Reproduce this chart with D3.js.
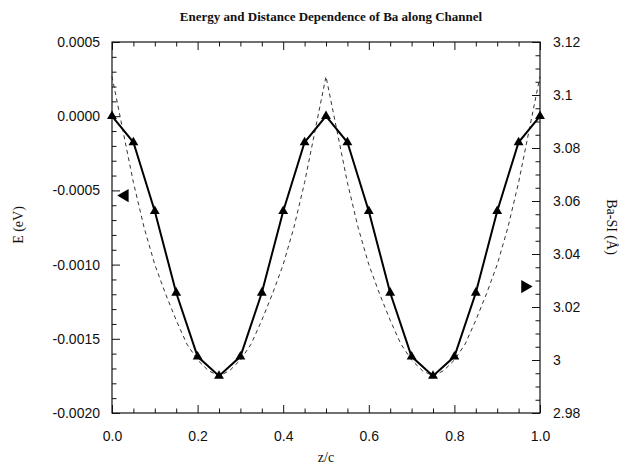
<!DOCTYPE html>
<html><head><meta charset="utf-8">
<script src="https://cdn.jsdelivr.net/npm/d3@7"></script>
<style>
html,body{margin:0;padding:0;background:#fff;}
svg{display:block;}
.num{font-family:"Liberation Sans",Arial,sans-serif;font-size:14px;fill:#111;}
.serif{font-family:"Liberation Serif","Times New Roman",serif;fill:#111;}
</style></head>
<body>
<svg id="c" width="626" height="467"></svg>
<script>
// ---- data ----
const zPositions = [0.00,0.05,0.10,0.15,0.20,0.25,0.30,0.35,0.40,0.45,0.50,0.55,0.60,0.65,0.70,0.75,0.80,0.85,0.90,0.95,1.00];
const energy = [0,-0.000176,-0.00064,-0.00119,-0.00162,-0.00175,-0.00162,-0.00119,-0.00064,-0.000176,0,
                -0.000176,-0.00064,-0.00119,-0.00162,-0.00175,-0.00162,-0.00119,-0.00064,-0.000176,0];
const zFine = [0.000,0.025,0.050,0.075,0.100,0.125,0.150,0.175,0.200,0.225,0.250,0.275,0.300,0.325,0.350,0.375,0.400,0.425,0.450,0.475,
               0.500,0.525,0.550,0.575,0.600,0.625,0.650,0.675,0.700,0.725,0.750,0.775,0.800,0.825,0.850,0.875,0.900,0.925,0.950,0.975,1.000];
const distance = [3.107,3.087,3.067,3.050,3.036,3.025,3.015,3.006,3.000,2.996,2.994,2.996,3.000,3.006,3.015,3.025,3.036,3.050,3.067,3.087,
                  3.107,3.087,3.067,3.050,3.036,3.025,3.015,3.006,3.000,2.996,2.994,2.996,3.000,3.006,3.015,3.025,3.036,3.050,3.067,3.087,3.107];
const xTicks = [0,0.2,0.4,0.6,0.8,1.0];
const xMinor = [0.05,0.1,0.15,0.25,0.3,0.35,0.45,0.5,0.55,0.65,0.7,0.75,0.85,0.9,0.95];
const eTicks = [0.0005,0,-0.0005,-0.0010,-0.0015,-0.0020];
const eTickLabels = ["0.0005","0.0000","-0.0005","-0.0010","-0.0015","-0.0020"];
const eMinor = [0.0004,0.0003,0.0002,0.0001,-0.0001,-0.0002,-0.0003,-0.0004,-0.0006,-0.0007,-0.0008,-0.0009,
                -0.0011,-0.0012,-0.0013,-0.0014,-0.0016,-0.0017,-0.0018,-0.0019];
const dTicks = [3.12,3.10,3.08,3.06,3.04,3.02,3.00,2.98];
const dTickLabels = ["3.12","3.1","3.08","3.06","3.04","3.02","3","2.98"];
const dMinor = [3.115,3.11,3.105,3.095,3.09,3.085,3.075,3.07,3.065,3.055,3.05,3.045,3.035,3.03,3.025,3.015,3.01,3.005,2.995,2.99,2.985];
const arrowE = -0.000535, arrowEz = 0.03;
const arrowD = 3.0277, arrowDz = 0.965;

// ---- layout ----
const L=112, R=540, T=42, B=413;
const svg = d3.select("#c");
const x = d3.scaleLinear([0,1],[L,R]);
const yE = d3.scaleLinear([-0.002,0.0005],[B,T]);
const yD = d3.scaleLinear([2.98,3.12],[B,T]);

function styleAxis(g){ g.select(".domain").remove(); g.selectAll("line").attr("stroke","#111"); g.selectAll("text").attr("class","num").attr("font-size",null).attr("font-family",null); }

// bottom
svg.append("g").attr("transform",`translate(0,${B})`)
  .call(d3.axisBottom(x).tickValues(xTicks).tickSize(-8).tickPadding(18).tickFormat(d3.format(".1f"))).call(styleAxis);
svg.append("g").attr("transform",`translate(0,${B})`)
  .call(d3.axisBottom(x).tickValues(xMinor).tickSize(-4.5).tickFormat("")).call(styleAxis);
// top
svg.append("g").attr("transform",`translate(0,${T})`)
  .call(d3.axisTop(x).tickValues(xTicks).tickSize(-8).tickFormat("")).call(styleAxis);
svg.append("g").attr("transform",`translate(0,${T})`)
  .call(d3.axisTop(x).tickValues(xMinor).tickSize(-4.5).tickFormat("")).call(styleAxis);
// left
svg.append("g").attr("transform",`translate(${L},0)`)
  .call(d3.axisLeft(yE).tickValues(eTicks).tickSize(-8).tickPadding(12).tickFormat((d,i)=>eTickLabels[i])).call(styleAxis);
svg.append("g").attr("transform",`translate(${L},0)`)
  .call(d3.axisLeft(yE).tickValues(eMinor).tickSize(-4.5).tickFormat("")).call(styleAxis);
// right
svg.append("g").attr("transform",`translate(${R},0)`)
  .call(d3.axisRight(yD).tickValues(dTicks).tickSize(-8).tickPadding(13).tickFormat((d,i)=>dTickLabels[i])).call(styleAxis);
svg.append("g").attr("transform",`translate(${R},0)`)
  .call(d3.axisRight(yD).tickValues(dMinor).tickSize(-4.5).tickFormat("")).call(styleAxis);

// frame
svg.append("rect").attr("x",L).attr("y",T).attr("width",R-L).attr("height",B-T)
  .attr("fill","none").attr("stroke","#111").attr("stroke-width",1.2);

// dashed distance curve
svg.append("path").datum(zFine.map((z,i)=>[z,distance[i]]))
  .attr("d",d3.line().x(d=>x(d[0])).y(d=>yD(d[1])))
  .attr("fill","none").attr("stroke","#333").attr("stroke-width",1).attr("stroke-dasharray","4,3.5");

// solid energy line
svg.append("path").datum(zPositions.map((z,i)=>[z,energy[i]]))
  .attr("d",d3.line().x(d=>x(d[0])).y(d=>yE(d[1])))
  .attr("fill","none").attr("stroke","#000").attr("stroke-width",2);

svg.selectAll(".mk").data(zPositions.map((z,i)=>[z,energy[i]])).join("path")
  .attr("transform",d=>`translate(${x(d[0])},${yE(d[1])})`)
  .attr("d",d3.symbol(d3.symbolTriangle,42)).attr("fill","#000");

// axis indicator arrows
svg.append("path").attr("transform",`translate(${x(arrowEz)},${yE(arrowE)}) rotate(-90)`)
  .attr("d",d3.symbol(d3.symbolTriangle,75)).attr("fill","#000");
svg.append("path").attr("transform",`translate(${x(arrowDz)},${yD(arrowD)}) rotate(90)`)
  .attr("d",d3.symbol(d3.symbolTriangle,75)).attr("fill","#000");

// titles
svg.append("text").attr("class","serif").attr("x",(L+R)/2+5).attr("y",21).attr("text-anchor","middle")
  .attr("font-size",13).attr("font-weight","bold").text("Energy and Distance Dependence of Ba along Channel");
svg.append("text").attr("class","serif").attr("transform","translate(23,225) rotate(-90)").attr("text-anchor","middle")
  .attr("font-size",14).text("E (eV)");
svg.append("text").attr("class","serif").attr("transform","translate(607,227) rotate(90)").attr("text-anchor","middle")
  .attr("font-size",14).text("Ba-SI (Å)");
svg.append("text").attr("class","serif").attr("x",(L+R)/2).attr("y",462).attr("text-anchor","middle")
  .attr("font-size",14).text("z/c");
</script>
</body></html>
